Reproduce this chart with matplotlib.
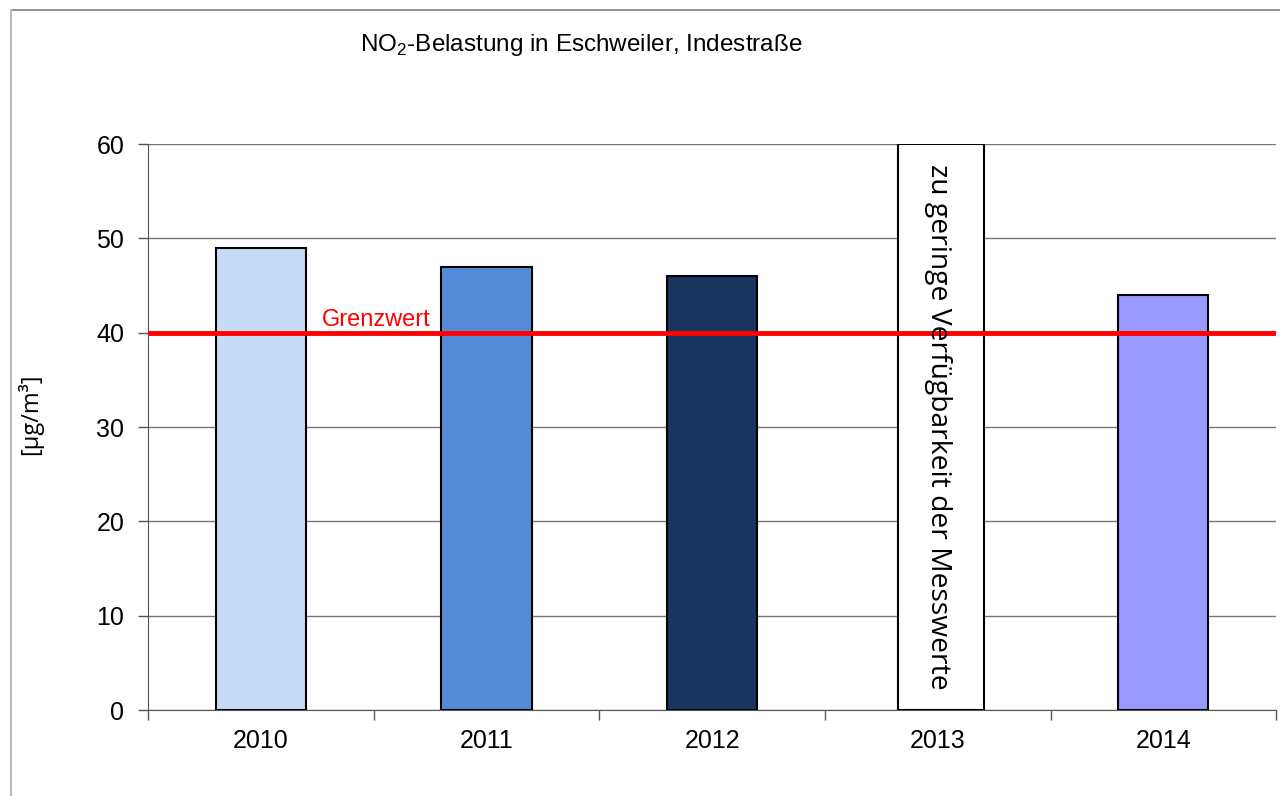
import matplotlib
matplotlib.use('Agg')
import matplotlib.pyplot as plt
from matplotlib.lines import Line2D

plt.rcParams['font.family'] = ['Liberation Sans', 'DejaVu Sans']
plt.rcParams['mathtext.fontset'] = 'custom'
plt.rcParams['mathtext.rm'] = 'Liberation Sans'

# data
years = ['2010', '2011', '2012', '2013', '2014']
no2 = [49, 47, 46, None, 44]
bar_colors = ['#C6DBF5', '#558BD6', '#1B365E', 'white', '#9999FF']
grenzwert = 40
y_ticks = [0, 10, 20, 30, 40, 50, 60]
missing_note = 'zu geringe Verfügbarkeit der Messwerte'

fig = plt.figure(figsize=(12.8, 7.96), dpi=100)
ax = fig.add_axes([0.1156, 0.108, 0.8814, 0.711])

xs = list(range(len(years)))
for x, v, c in zip(xs, no2, bar_colors):
    if v is None:
        # placeholder box for the missing year
        ax.bar(x + 0.015, y_ticks[-1], width=0.38, color='white', edgecolor='black',
               linewidth=1.5, zorder=3)
        ax.text(x + 0.0, y_ticks[-1] / 2, missing_note, rotation=-90, ha='center',
                va='center', fontsize=20.3, family=['Open Sans', 'DejaVu Sans'],
                zorder=5)
    else:
        ax.bar(x, v, width=0.4, color=c, edgecolor='black', linewidth=1.5,
               zorder=3)

ax.axhline(grenzwert, color='#FF0000', linewidth=3.5, zorder=4)
ax.text(0.27, grenzwert + 0.2, 'Grenzwert', color='#FF0000', fontsize=17,
        ha='left', va='bottom', zorder=5)

ax.set_xlim(-0.5, len(years) - 0.5)
ax.set_ylim(0, 60)
ax.set_yticks(y_ticks)
ax.set_yticklabels([str(t) for t in y_ticks], fontsize=18)
ax.set_xticks(xs)
ax.set_xticklabels(years, fontsize=18)
ax.set_xticks([i - 0.5 for i in range(len(years) + 1)], minor=True)
ax.tick_params(axis='x', which='major', length=0, pad=14)
ax.tick_params(axis='x', which='minor', length=7, direction='out',
               color='#555555', width=1)
ax.tick_params(axis='y', length=7, direction='out', color='#555555',
               width=1, pad=10)

ax.yaxis.grid(True, color='#777777', linewidth=1, zorder=0)
ax.set_axisbelow(True)
for s in ['top', 'right']:
    ax.spines[s].set_visible(False)
ax.spines['left'].set_color('#555555')
ax.spines['bottom'].set_color('#555555')

fig.text(30 / 1280, 1 - 414 / 796, '[µg/m³]', rotation=90, ha='center',
         va='center', fontsize=17, family=['Open Sans', 'DejaVu Sans'])

fig.text(0.454, 1 - 45 / 796, r'NO$_\mathregular{2}$-Belastung in Eschweiler, Indestraße',
         ha='center', va='center', fontsize=17.5)

# outer frame (top and left)
fig.add_artist(Line2D([11 / 1280, 1], [1 - 10 / 796, 1 - 10 / 796],
                      transform=fig.transFigure, color='#808080', linewidth=1.2))
fig.add_artist(Line2D([11 / 1280, 11 / 1280], [0, 1 - 10 / 796],
                      transform=fig.transFigure, color='#BBBBBB', linewidth=1.5))

fig.savefig('out.png', dpi=100)
